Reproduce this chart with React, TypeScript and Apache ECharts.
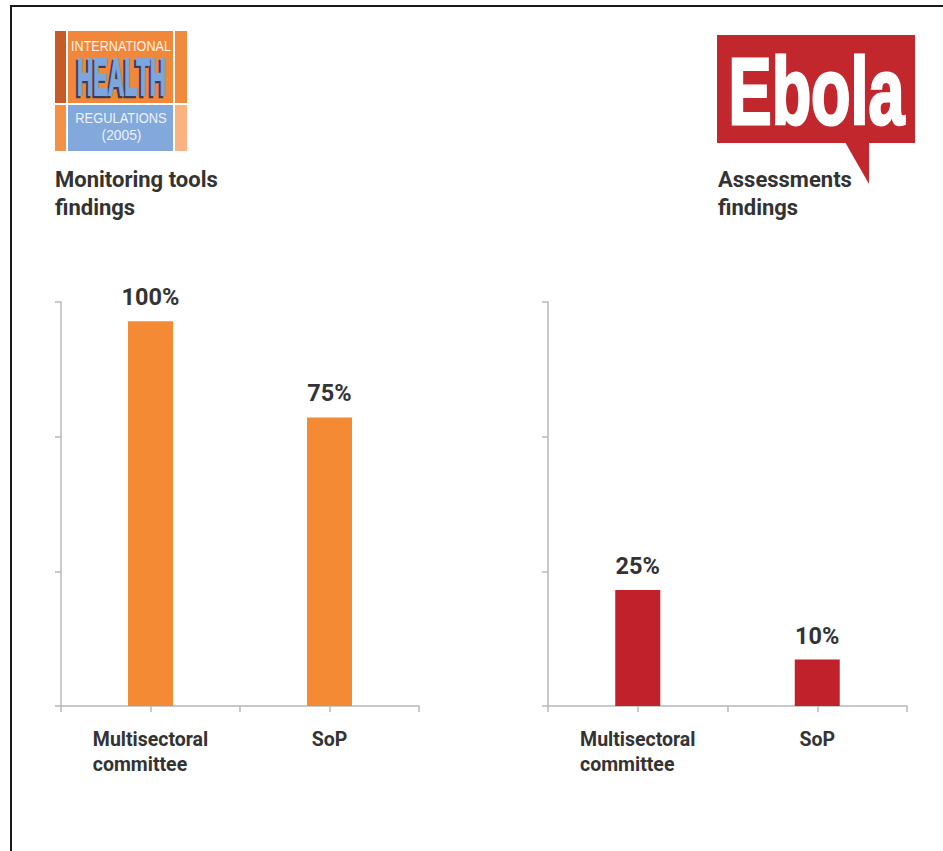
import React, { useEffect, useRef } from "react";
import * as echarts from "echarts";

// ---- data ----
const categories = ["Multisectoral\ncommittee", "SoP"];
const monitoringValues = [100, 75];
const assessmentValues = [25, 10];
const panelTitles = ["Monitoring tools\nfindings", "Assessments\nfindings"];
const axisMax = [105, 87];
const axisInterval = [35, 29];
const ihrLines = ["INTERNATIONAL", "HEALTH", "REGULATIONS", "(2005)"];
const ebolaWord = "Ebola";

const FONT = 'Roboto, "Liberation Sans", Arial, sans-serif';
const LOGO_FONT = '"Liberation Sans", Arial, sans-serif';
const AXIS_COLOR = "#b8b8b8";
const TEXT_COLOR = "#333333";

export default function App() {
  const ref = useRef<HTMLDivElement>(null);

  useEffect(() => {
    const chart = echarts.init(ref.current as HTMLDivElement, null, { renderer: "svg" });

    const rich = {
      l: {
        align: "left",
        fontFamily: FONT,
        fontSize: 19.5,
        fontWeight: "bold",
        color: TEXT_COLOR,
        lineHeight: 25,
      },
    };

    const makeX = (gridIndex: number) => [
      {
        type: "category",
        gridIndex,
        data: categories,
        position: "bottom",
        boundaryGap: true,
        axisLine: { show: true, lineStyle: { color: AXIS_COLOR, width: 1.5 } },
        axisTick: { show: true, length: 6, lineStyle: { color: AXIS_COLOR, width: 1.5 } },
        axisLabel: {
          show: true,
          margin: 21,
          interval: 0,
          align: "center",
          formatter: (v: string) =>
            v
              .split("\n")
              .map((s) => `{l|${s}}`)
              .join("\n"),
          rich,
        },
        splitLine: { show: false },
      },
      {
        type: "category",
        gridIndex,
        data: categories,
        position: "bottom",
        boundaryGap: true,
        axisLine: { show: false },
        axisTick: {
          show: true,
          alignWithLabel: true,
          length: 6,
          lineStyle: { color: AXIS_COLOR, width: 1.5 },
        },
        axisLabel: { show: false },
        splitLine: { show: false },
      },
    ];

    const makeY = (gridIndex: number) => ({
      type: "value",
      gridIndex,
      min: 0,
      max: axisMax[gridIndex],
      interval: axisInterval[gridIndex],
      axisLine: { show: true, lineStyle: { color: AXIS_COLOR, width: 1.5 } },
      axisTick: { show: true, length: 6, lineStyle: { color: AXIS_COLOR, width: 1.5 } },
      axisLabel: { show: false },
      splitLine: { show: false },
    });

    const barLabel = {
      show: true,
      position: "top",
      distance: 12,
      formatter: "{c}%",
      fontFamily: FONT,
      fontSize: 23.5,
      fontWeight: "bold",
      color: TEXT_COLOR,
    };

    const titleStyle = {
      fontFamily: FONT,
      fontSize: 22,
      fontWeight: "bold",
      color: TEXT_COLOR,
      lineHeight: 28,
    };

    const graphic: any[] = [
      // page frame
      {
        type: "rect",
        shape: { x: 11, y: 6, width: 1000, height: 1000 },
        style: { fill: "none", stroke: "#1a1a1a", lineWidth: 2 },
        z: 100,
      },
      // IHR logo blocks
      { type: "rect", shape: { x: 55, y: 31, width: 11, height: 72 }, style: { fill: "#C85A28" } },
      { type: "rect", shape: { x: 68, y: 31, width: 105, height: 72 }, style: { fill: "#F0873A" } },
      { type: "rect", shape: { x: 175, y: 31, width: 12, height: 72 }, style: { fill: "#F08A3C" } },
      { type: "rect", shape: { x: 55, y: 105, width: 11, height: 46 }, style: { fill: "#F39246" } },
      { type: "rect", shape: { x: 68, y: 105, width: 105, height: 46 }, style: { fill: "#82A8DC" } },
      { type: "rect", shape: { x: 175, y: 105, width: 12, height: 46 }, style: { fill: "#FAB27E" } },
      {
        type: "text",
        x: 121,
        y: 46,
        scaleX: 0.84,
        style: {
          text: ihrLines[0],
          fontFamily: LOGO_FONT,
          fontSize: 15,
          fill: "#FAF3EC",
          align: "center",
          verticalAlign: "middle",
        },
      },
      // HEALTH: dark shadow copy, then blue face
      {
        type: "text",
        x: 119.5,
        y: 78.5,
        scaleX: 0.43,
        style: {
          text: ihrLines[1],
          fontFamily: LOGO_FONT,
          fontSize: 52,
          fontWeight: "bold",
          fill: "#3A3D58",
          stroke: "#3A3D58",
          lineWidth: 2.5,
          align: "center",
          verticalAlign: "middle",
        },
      },
      {
        type: "text",
        x: 121.5,
        y: 77,
        scaleX: 0.43,
        style: {
          text: ihrLines[1],
          fontFamily: LOGO_FONT,
          fontSize: 52,
          fontWeight: "bold",
          fill: "#7EA6DC",
          stroke: "#7EA6DC",
          lineWidth: 2,
          align: "center",
          verticalAlign: "middle",
        },
      },
      {
        type: "text",
        x: 121,
        y: 117.5,
        scaleX: 0.86,
        style: {
          text: ihrLines[2],
          fontFamily: LOGO_FONT,
          fontSize: 15,
          fill: "#EEF2F8",
          align: "center",
          verticalAlign: "middle",
        },
      },
      {
        type: "text",
        x: 121.5,
        y: 135,
        scaleX: 0.92,
        style: {
          text: ihrLines[3],
          fontFamily: LOGO_FONT,
          fontSize: 15,
          fill: "#EEF2F8",
          align: "center",
          verticalAlign: "middle",
        },
      },
      // Ebola logo
      { type: "rect", shape: { x: 717, y: 35, width: 198, height: 108 }, style: { fill: "#C1272D" } },
      {
        type: "polygon",
        shape: { points: [[845, 142], [869, 142], [869, 184]] },
        style: { fill: "#C1272D" },
      },
      {
        type: "text",
        x: 816.5,
        y: 91,
        scaleX: 0.68,
        style: {
          text: ebolaWord,
          fontFamily: LOGO_FONT,
          fontSize: 95,
          fontWeight: "bold",
          fill: "#ffffff",
          stroke: "#ffffff",
          lineWidth: 3,
          align: "center",
          verticalAlign: "middle",
        },
      },
    ];

    chart.setOption({
      animation: false,
      backgroundColor: "#ffffff",
      title: [
        { text: panelTitles[0], left: 55, top: 165, padding: 0, textStyle: titleStyle },
        { text: panelTitles[1], left: 718, top: 165, padding: 0, textStyle: titleStyle },
      ],
      grid: [
        { left: 61, top: 302, width: 358, height: 404, containLabel: false },
        { left: 548, top: 302, width: 359, height: 404, containLabel: false },
      ],
      xAxis: [...makeX(0), ...makeX(1)],
      yAxis: [makeY(0), makeY(1)],
      series: [
        {
          type: "bar",
          xAxisIndex: 0,
          yAxisIndex: 0,
          data: monitoringValues,
          barWidth: 45,
          itemStyle: { color: "#F58A35" },
          label: barLabel,
        },
        {
          type: "bar",
          xAxisIndex: 2,
          yAxisIndex: 1,
          data: assessmentValues,
          barWidth: 45,
          itemStyle: { color: "#C1212B" },
          label: barLabel,
        },
      ],
      graphic,
    });

    return () => chart.dispose();
  }, []);

  return (
    <div
      ref={ref}
      style={{ position: "absolute", left: 0, top: 0, width: 943, height: 851 }}
    />
  );
}
